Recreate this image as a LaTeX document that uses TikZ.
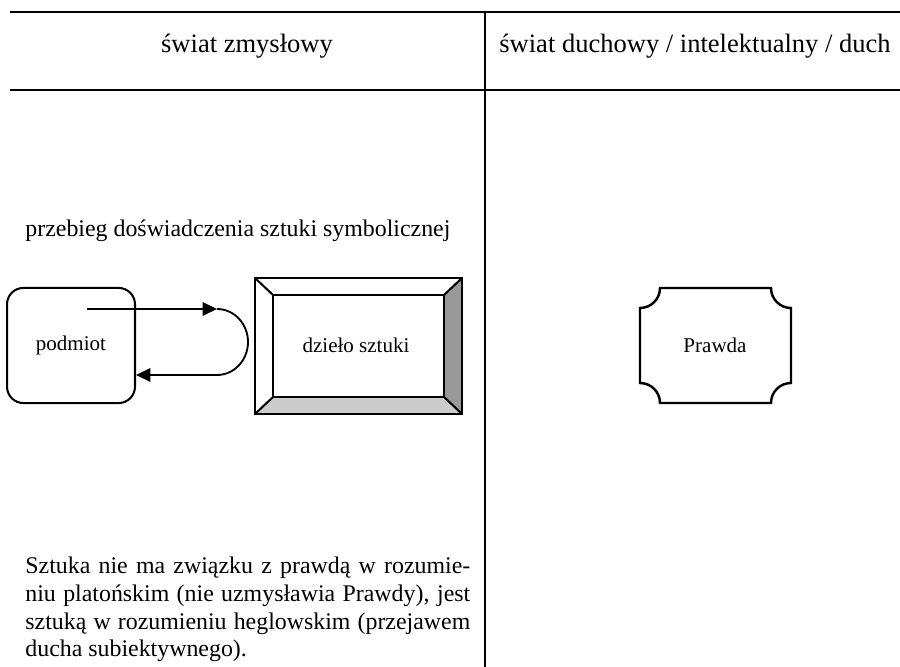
\documentclass[tikz,border=0pt]{standalone}
\usepackage{fontspec}
\setmainfont{Liberation Serif}
\usetikzlibrary{calc,arrows.meta}
\colorlet{bevel_dark}{black!40}
\colorlet{bevel_light}{black!20}
\tikzset{
    rule/.style={line width=1.3pt},
    box/.style={draw,line width=1pt},
    flow/.style={-{Triangle[length=7pt,width=6.5pt]},line width=1.1pt},
    headtext/.style={font=\fontsize{13}{15}\selectfont,inner sep=0pt},
    bodytext/.style={font=\fontsize{11.7}{13.5}\selectfont,inner sep=0pt},
    boxtext/.style={font=\fontsize{10.3}{12}\selectfont},
}

\begin{document}
\begin{tikzpicture}[x=0.49pt,y=-0.49pt]
  \useasboundingbox (0,0) rectangle (900,667);
  % Draw table rules
  \draw[rule] (10,12) -- (900,12);
  \draw[rule] (10,90) -- (900,90);
  \draw[rule] (485,12) -- (485,667);
  \node[headtext,anchor=base] (sensual) at (247,53) {świat zmysłowy};
  \node[headtext,anchor=base] (spiritual) at (695,53) {świat duchowy / intelektualny / duch};
  \node[bodytext,anchor=base west] (caption) at (25,237) {przebieg doświadczenia sztuki symbolicznej};
  % Draw subject
  \node[box,boxtext,rounded corners=8pt,minimum width=62.7pt,minimum height=56.4pt] (podmiot) at (71,345.5) {podmiot};
  % Draw framed artwork
  \fill[bevel_dark] (462,278) -- (462,414) -- (444,397) -- (444,295) -- cycle;
  \fill[bevel_light] (255,414) -- (462,414) -- (444,397) -- (273,397) -- cycle;
  \draw[box] (255,278) rectangle (462,414);
  \draw[box] (273,295) rectangle (444,397);
  \draw[box] (255,278) -- (273,295);
  \draw[box] (462,278) -- (444,295);
  \draw[box] (255,414) -- (273,397);
  \draw[box] (462,414) -- (444,397);
  \node[boxtext] (dzielo) at (356,345) {dzieło sztuki};
  % Draw experience loop
  \coordinate (start) at (87,309);
  \coordinate (loopin) at (217,309);
  \coordinate (loopout) at (217,375);
  \draw[flow] (start) -- (loopin);
  \draw[line width=0.9pt] (loopin) arc[start angle=-90,end angle=90,x radius=31,y radius=33];
  \draw[flow] (loopout) -- (podmiot.east |- loopout);
  % Draw truth
  \draw[box,line width=1.2pt] (660,288) -- (771,288) arc[start angle=180,end angle=90,radius=20]
    -- (791,383) arc[start angle=270,end angle=180,radius=20]
    -- (660,403) arc[start angle=0,end angle=-90,radius=20]
    -- (640,308) arc[start angle=90,end angle=0,radius=20] -- cycle;
  \node[boxtext] (prawda) at (715,345) {Prawda};
  % Closing remark
  \node[bodytext,anchor=north west,text width=218pt,align=justify] (remark) at (25,557)
    {Sztuka nie ma związku z prawdą w rozumie-\linebreak niu platońskim (nie uzmysławia Prawdy), jest\linebreak sztuką w rozumieniu heglowskim (przejawem\linebreak ducha subiektywnego).};
\end{tikzpicture}
\end{document}
